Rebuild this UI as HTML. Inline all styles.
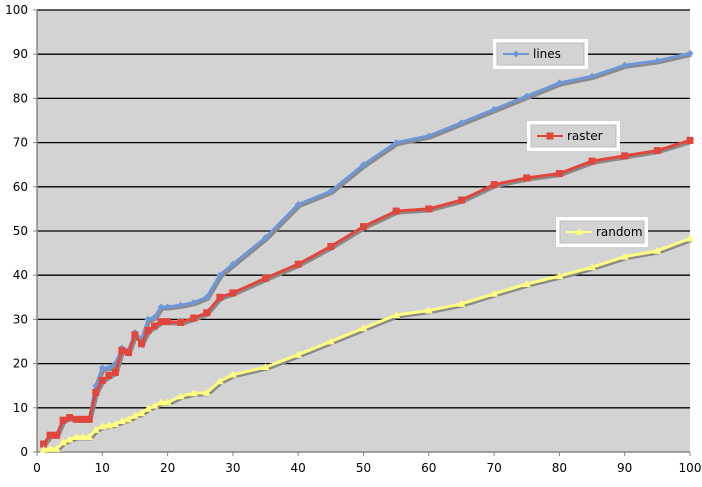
<!DOCTYPE html>
<html><head><meta charset="utf-8"><style>
html,body{margin:0;padding:0;background:#fff;}
svg text{font-family:"DejaVu Sans","Liberation Sans",sans-serif;font-size:12px;fill:#000;}
</style></head><body>
<svg id="chart" width="702" height="482" xmlns="http://www.w3.org/2000/svg">
<rect x="37" y="10" width="653" height="442" fill="#d3d3d3"/>
<g id="grid"></g><g id="axes"></g><g id="series"></g><g id="legend"></g>
</svg>
<script>
const xs=[1,2,3,4,5,6,7,8,9,10,11,12,13,14,15,16,17,18,19,20,22,24,26,28,30,35,40,45,50,55,60,65,70,75,80,85,90,95,100];
const linesVals=[1.8,3.8,3.8,7.2,7.8,7.4,7.4,7.4,15,19,19,20,23.5,23,27,25.5,30,30.5,32.8,32.8,33.2,33.8,35,40,42.5,48.5,56,59,65,70,71.5,74.5,77.5,80.5,83.5,85,87.5,88.5,90.2];
const rasterVals=[1.8,3.8,3.8,7.2,7.8,7.4,7.4,7.4,13.5,16.2,17.3,18,23,22.5,26.5,24.5,27.5,28.5,29.5,29.5,29.3,30.3,31.5,35,36,39.3,42.5,46.5,51,54.5,55,57,60.5,62,63,65.8,67,68.2,70.5];
const randomVals=[0.5,0.7,0.7,2.2,2.8,3.4,3.4,3.4,5,5.8,6,6.3,7,7.4,8.2,8.8,9.8,10.5,11.2,11.2,12.6,13.3,13.4,16,17.5,19.2,22,25,28,31,32,33.5,35.8,38,39.8,41.8,44.2,45.5,48.3];
const yTicks=[0,10,20,30,40,50,60,70,80,90,100];
const xTicks=[0,10,20,30,40,50,60,70,80,90,100];
const NS="http://www.w3.org/2000/svg";
const X=v=>37+v*6.53, Y=v=>452-v*4.42;
function mk(tag,at,parent){const e=document.createElementNS(NS,tag);for(const k in at)e.setAttribute(k,at[k]);parent.appendChild(e);return e;}
const grid=document.getElementById('grid'),axes=document.getElementById('axes'),ser=document.getElementById('series'),leg=document.getElementById('legend');
yTicks.forEach(t=>{
 if(t>0){const g=mk('line',{x1:37,x2:690,y1:Y(t),y2:Y(t),stroke:'#000','stroke-width':1.3},grid);
 
 }
 const tk=mk('line',{x1:33,x2:37,y1:Y(t),y2:Y(t),stroke:'#888'},axes);
 
 
 const tx=mk('text',{x:28,y:Y(t)+4,'text-anchor':'end'},axes);tx.textContent=t;
 
 
});
xTicks.forEach(t=>{
 const tk=mk('line',{x1:X(t),x2:X(t),y1:452,y2:456,stroke:'#888'},axes);
 
 
 const tx=mk('text',{x:X(t),y:472,'text-anchor':'middle'},axes);tx.textContent=t;
 
 
});
const ya=mk('line',{x1:37,x2:37,y1:10,y2:452,stroke:'#888','stroke-width':1.5},axes);


const xa=mk('line',{x1:37,x2:690,y1:452,y2:452,stroke:'#888','stroke-width':1.5},axes);


function marker(type,x,y,col,p){
 let e;
 if(type==='diamond')e=mk('path',{d:`M${x} ${y-3.5}L${x+3.5} ${y}L${x} ${y+3.5}L${x-3.5} ${y}Z`,fill:col},p);
 else if(type==='square')e=mk('rect',{x:x-3.5,y:y-3.5,width:7,height:7,fill:col},p);
 else e=mk('path',{d:`M${x} ${y-4}L${x+4} ${y+3}L${x-4} ${y+3}Z`,fill:col},p);
 return e;
}
function series(name,vals,col,type){
 const g=mk('g',{},ser);
 
 
 const pts=xs.map((x,i)=>X(x)+','+Y(vals[i])).join(' ');
 const sh=mk('polyline',{points:pts,fill:'none',stroke:'#8a8a8a','stroke-width':3,transform:'translate(1.5,2)'},g);
 
 
 const l=mk('polyline',{points:pts,fill:'none',stroke:col,'stroke-width':3,'stroke-linejoin':'round'},g);
 
 
 xs.forEach((x,i)=>{const m=marker(type,X(x),Y(vals[i]),col,g);
  
  });
}
series('lines',linesVals,'#6f96d6','diamond');
series('raster',rasterVals,'#e0463c','square');
series('random',randomVals,'#ffff80','tri');
function legend(name,x,y,w,col,type){
 const g=mk('g',{},leg);
 
 
 mk('rect',{x:x,y:y,width:w,height:30,fill:'#fff'},g);
 mk('rect',{x:x+4,y:y+4,width:w-8,height:22,fill:'#d3d3d3',stroke:'#bbb'},g);
 mk('line',{x1:x+10,x2:x+36,y1:y+15,y2:y+15,stroke:col,'stroke-width':2},g);
 marker(type,x+23,y+15,col,g);
 const t=mk('text',{x:x+40,y:y+19},g);t.textContent=name;
}
legend('lines',493,39,95,'#6f96d6','diamond');
legend('raster',527,121,93,'#e0463c','square');
legend('random',556,217,92,'#ffff80','tri');
</script>
</body></html>
